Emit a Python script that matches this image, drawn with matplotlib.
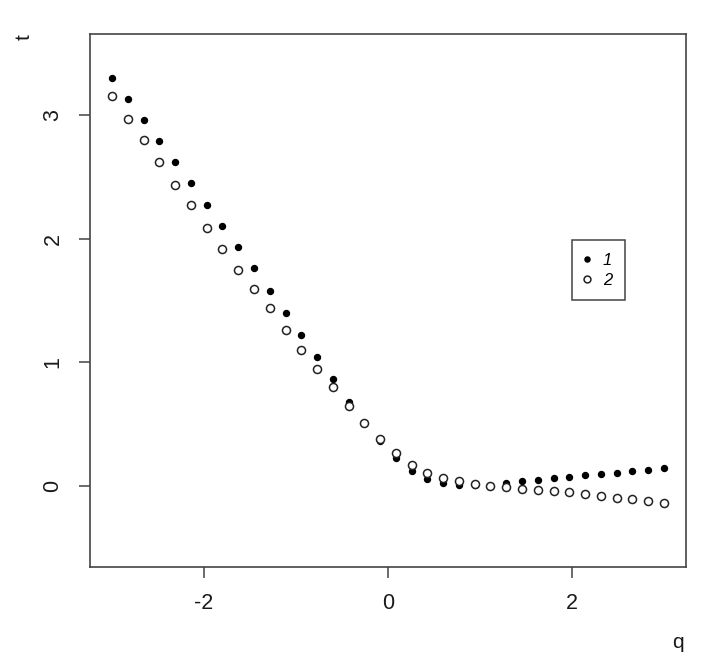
import numpy as np
import matplotlib
matplotlib.use("Agg")
import matplotlib.pyplot as plt

# q grid: 36 evenly spaced points on [-3, 3]
q_start, q_stop, q_count = -3.0, 3.0, 36

# series 1 (filled dots)
t1 = [3.30, 3.13, 2.96, 2.79, 2.62, 2.45, 2.27, 2.10, 1.93, 1.76,
      1.58, 1.40, 1.22, 1.04, 0.86, 0.68, 0.51, 0.36, 0.22, 0.12,
      0.05, 0.02, 0.005, 0.005, 0.00, 0.02, 0.035, 0.045, 0.06, 0.07,
      0.085, 0.095, 0.105, 0.12, 0.13, 0.14]

# series 2 (open circles)
t2 = [3.16, 2.97, 2.80, 2.62, 2.44, 2.27, 2.09, 1.92, 1.75, 1.59,
      1.44, 1.26, 1.10, 0.945, 0.80, 0.645, 0.505, 0.375, 0.265, 0.17,
      0.105, 0.06, 0.035, 0.015, 0.00, -0.015, -0.025, -0.035, -0.045, -0.055,
      -0.07, -0.085, -0.10, -0.11, -0.125, -0.14]

labels = ["1", "2"]
xticks = [-2, 0, 2]
yticks = [0, 1, 2, 3]

q = np.linspace(q_start, q_stop, q_count)

plt.rcParams["font.family"] = ["Liberation Sans", "DejaVu Sans"]

fig = plt.figure(figsize=(7.06, 6.66), dpi=100)
ax = fig.add_axes([90 / 706, 1 - 567 / 666, 596 / 706, 533 / 666])

ax.plot(q, t1, linestyle="none", marker="o", markersize=4.3,
        color="black", label=labels[0])
ax.plot(q, t2, linestyle="none", marker="o", markersize=5.8,
        markerfacecolor="white", markeredgecolor="#222222",
        markeredgewidth=1.1, label=labels[1])

ax.set_xlim(-3.24, 3.24)
ax.set_ylim(-0.66, 3.66)
ax.set_xticks(xticks)
ax.set_yticks(yticks)
ax.set_xticklabels([str(v) for v in xticks])
ax.set_yticklabels([str(v) for v in yticks], rotation=90, va="center")

for s in ax.spines.values():
    s.set_color("#444444")
    s.set_linewidth(1.2)
ax.tick_params(length=8, width=1.1, color="#444444", labelsize=15.5,
               labelcolor="#1a1a1a", pad=11)

# axis titles at the ends, like R's mtext with adj=1
fig.text(24 / 706, 1 - 37 / 666, "t", rotation=90, fontsize=15,
         ha="center", va="center", color="#1a1a1a")
fig.text(678 / 706, 1 - 642 / 666, "q", fontsize=15,
         ha="center", va="center", color="#1a1a1a")

leg = ax.legend(loc="upper left", bbox_to_anchor=(0.809, 0.6135),
                borderaxespad=0, fancybox=False, framealpha=1,
                edgecolor="#444444", handlelength=0.3, markerscale=0.85,
                handletextpad=0.8, borderpad=0.75, labelspacing=0.3,
                prop={"style": "italic", "size": 12})
leg.get_frame().set_linewidth(1.1)

fig.savefig("out.png", dpi=100)
